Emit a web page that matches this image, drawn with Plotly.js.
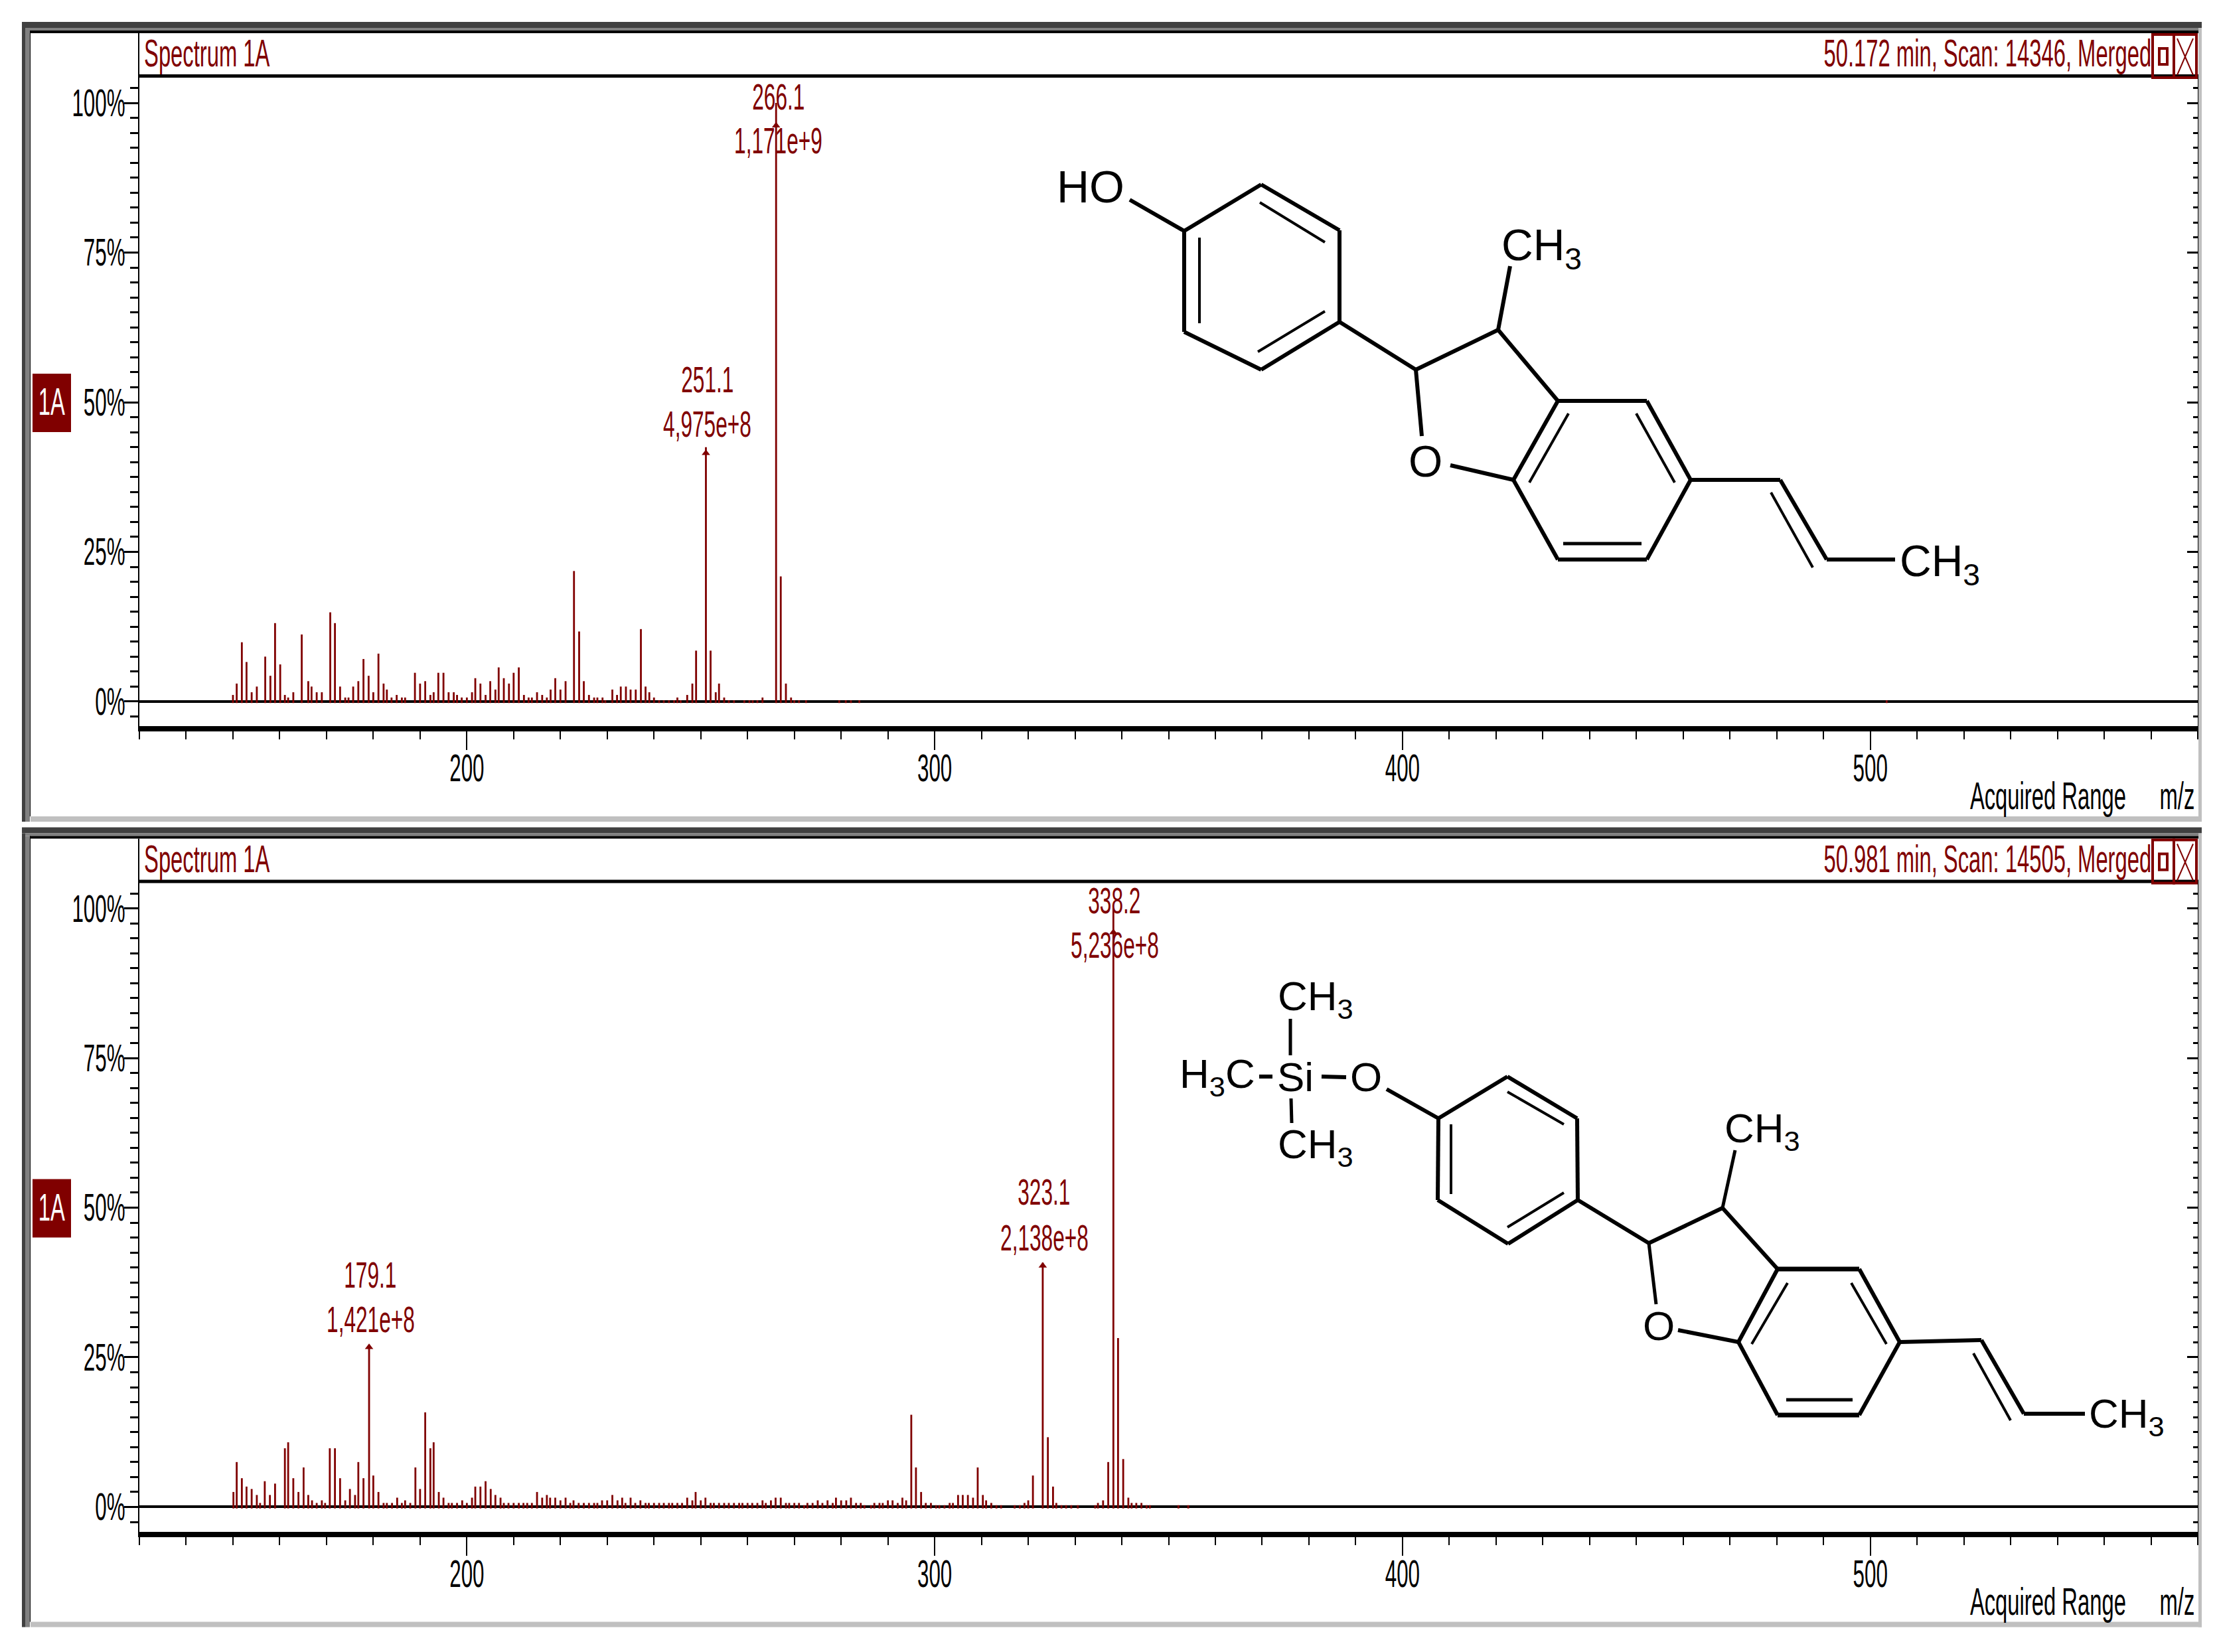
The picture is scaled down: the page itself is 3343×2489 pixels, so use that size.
<!DOCTYPE html>
<html>
<head>
<meta charset="utf-8">
<script src="https://cdn.plot.ly/plotly-3.0.1.min.js"></script>
<style>
  body { margin: 0; background: white; }
</style>
</head>
<body>
<div id="chart" style="width:3343px;height:2489px"></div>
<script>
const W = 3343, H = 2489
const PANEL_OFFSET = 1213.5
const RED = '#800000'
const FONT = '"Liberation Sans", Arial, sans-serif'

// Spectrum at 50.172 min
const mzTop = [150, 150.8, 151.9, 152.9, 154, 155.1, 156.9, 158, 159, 160.1,
  161.1, 161.8, 162.9, 164.7, 166.1, 166.8, 167.9, 169, 170.8, 171.8,
  172.9, 174, 174.7, 175.7, 176.8, 177.9, 179, 180, 181.1, 182.2,
  182.9, 183.9, 185, 186.1, 186.8, 188.9, 190, 191.1, 192.2, 192.9,
  193.9, 195, 196.1, 197.2, 197.9, 198.9, 200, 201.1, 201.8, 202.9,
  204, 205, 206.1, 206.8, 207.9, 209, 210, 211.1, 212.2, 213.2,
  213.9, 215, 216.1, 217.1, 217.9, 218.9, 220, 221.1,
  222.9, 224, 225, 226.1, 227.2, 227.9, 229, 229.6, 231.1, 232.1,
  232.9, 234, 235, 236.1, 237.2, 238.2, 239, 240, 241.1, 242.1,
  243.2, 244.3, 245, 245.7, 247.1, 248.2, 249, 251.1, 252.1, 253.2,
  253.9, 255, 256, 257.1, 259.3, 260.4, 261.1, 262.1, 263.2, 266.1,
  267.1, 268.2, 269.3, 270, 271, 272.5, 279.6, 281, 282.1, 283.9, 503.5]
const intensityTop = [1.1, 3, 9.9, 6.6, 1.55, 2.5, 7.5, 4.3, 13.1, 6.2,
  1.1, 0.67, 1.55, 11.2, 3.4, 2.5, 1.55, 1.55, 14.9, 13.1,
  2.5, 0.67, 0.67, 2.5, 3.4, 7.1, 4.3, 1.55, 8, 3,
  2, 0.67, 1.1, 0.67, 0.67, 4.8, 3, 3.4, 1.1, 1.55,
  4.8, 4.8, 1.55, 1.55, 1.1, 0.67, 0.67, 1.55, 3.9, 3,
  1.1, 3.4, 2, 5.7, 3.9, 3, 4.8, 5.7, 1.1, 0.67,
  0.67, 1.55, 1.1, 0.67, 2, 3.9, 2, 3.4,
  21.8, 11.7, 3.4, 1.1, 0.67, 0.67, 0.67, 0.2, 2, 1.1,
  2.5, 2.5, 2, 2, 12.1, 2.5, 1.55, 0.67, 0.2, 0.2,
  0.2, 0.2, 0.67, 0.2, 1.1, 3, 8.5, 42.5, 8.5, 1.55,
  3, 0.67, 0.2, 0.2, 0.2, 0.2, 0.2, 0.2, 0.67, 100,
  20.9, 3, 0.67, 0.2, 0.2, 0.2, 0.2, 0.2, 0.2, 0.2, 0.2]

// Spectrum at 50.981 min
const mzBottom = [150.1, 150.8, 151.9, 152.9, 154, 155.1, 155.8, 156.8, 157.9, 159,
  161.1, 161.8, 162.9, 164, 165.1, 166.1, 166.9, 167.9, 169, 169.7,
  170.7, 171.8, 172.9, 174, 175, 176.1, 176.8, 177.9, 179.1, 180,
  181.1, 182.2, 182.9, 184, 185.1, 186.1, 186.8, 187.9, 189, 190,
  191.1, 192.2, 192.9, 194, 195, 196.1, 196.8, 197.9, 199, 200,
  201.1, 201.8, 202.9, 204, 205.1, 206.1, 207.2, 207.9, 208.9, 210,
  211.1, 212.1, 212.9, 213.9, 215, 216.1, 217.1, 217.8, 218.9, 220,
  221.1, 222.1, 222.8, 223.9, 225, 226.1, 227.2, 227.9, 228.9, 230,
  231.1, 232.2, 233.2, 233.9, 235, 236, 237.1, 238.2, 238.9, 240,
  241.1, 242.1, 243.2, 243.9, 245, 246, 247.1, 248.2, 248.9, 250,
  251, 252.1, 252.8, 253.9, 255, 256, 257.1, 258.2, 258.9, 260,
  261, 262.1, 263.2, 263.9, 265, 266, 267.1, 268.2, 268.9, 270,
  271, 272.1, 272.8, 273.9, 275, 276, 277.1, 278.2, 278.9, 280,
  281.1, 282.1, 283.2, 284.2, 285, 286.4, 287.1, 288.2, 288.9, 290,
  291, 292.1, 293.1, 293.9, 295, 296, 297.1, 298.1, 299.2, 300.3,
  301, 302.1, 303.2, 303.9, 305, 306, 307.1, 308.2, 309.2, 310.3,
  311, 312.1, 313.2, 314.2, 317.1, 318.2, 319.2, 320, 321, 323.1,
  324.2, 325.3, 326, 327.1, 328.1, 329.2, 330.6, 334.3, 334.9, 336,
  337.1, 338.2, 339.2, 340.3, 341.4, 342.1, 343.1, 344.2, 345.3, 346,
  352.1, 354.2]
const intensityBottom = [2.5, 7.5, 4.8, 3.4, 3, 2, 0.67, 4.3, 2, 3.9,
  9.8, 10.8, 4.8, 2.5, 6.6, 2, 1.1, 0.67, 1.1, 0.67,
  9.8, 9.8, 4.8, 1.1, 3, 2, 7.5, 4.8, 27.1, 5.25,
  2.5, 0.67, 0.67, 0.67, 1.55, 0.67, 1.1, 0.67, 6.6, 3,
  15.8, 9.8, 10.8, 2.5, 1.55, 0.67, 0.67, 0.67, 1.1, 0.67,
  1.55, 3.4, 3.4, 4.3, 3, 2, 1.55, 0.67, 0.67, 0.67,
  0.67, 0.67, 0.67, 0.67, 2.5, 1.55, 2, 1.55, 1.55, 1.1,
  1.55, 0.67, 1.1, 0.67, 0.67, 0.67, 0.67, 0.67, 1.1, 1.1,
  2, 1.1, 1.55, 0.67, 1.55, 0.67, 1.1, 0.67, 0.67, 0.67,
  0.67, 0.67, 0.67, 0.67, 0.67, 0.67, 1.55, 1.1, 2.5, 1.1,
  1.55, 0.67, 0.67, 0.67, 0.67, 0.67, 0.67, 0.67, 0.67, 0.67,
  0.67, 0.67, 1.1, 0.67, 1.1, 1.55, 1.55, 0.67, 0.67, 0.67,
  0.67, 0.3, 0.67, 0.67, 1.1, 0.67, 1.1, 0.67, 1.55, 1.1,
  1.1, 1.55, 0.67, 0.67, 0.3, 0.3, 0.67, 0.67, 0.67, 1.1,
  1.1, 0.67, 1.55, 1.1, 15.4, 6.6, 2.5, 0.67, 0.67, 0.3,
  0.3, 0.3, 0.67, 0.67, 2, 2, 2, 1.55, 6.6, 2,
  1.1, 0.67, 0.3, 0.3, 0.3, 0.3, 0.67, 1.1, 5.25, 40.8,
  11.65, 3.4, 0.67, 0.3, 0.3, 0.3, 0.3, 0.3, 0.67, 1.1,
  7.5, 100, 28.2, 8, 1.55, 0.67, 0.67, 0.67, 0.3, 0.3,
  0.3, 0.3]

// Peak labels and their arrow heads
const arrowMzTop = [266.1, 251.1]
const arrowYTop = [96.2, 41.5]
const labelMzTop = [266.6, 251.4]
const labelMassTop = ['266.1', '251.1']
const labelAreaTop = ['1,171e+9', '4,975e+8']
const labelMassYTop = [101, 53.8]
const labelAreaYTop = [93.7, 46.3]

const arrowMzBottom = [338.2, 323.1, 179.1]
const arrowYBottom = [96, 40.3, 26.7]
const labelMzBottom = [338.5, 323.4, 179.4]
const labelMassBottom = ['338.2', '323.1', '179.1']
const labelAreaBottom = ['5,236e+8', '2,138e+8', '1,421e+8']
const labelMassYBottom = [101.3, 52.6, 38.8]
const labelAreaYBottom = [93.8, 45, 31.3]

const headers = ['50.172 min, Scan: 14346, Merged', '50.981 min, Scan: 14505, Merged']

// Structure drawings, in page pixels: x0, y0, x1, y1, width
const bondsTop = [
  [1784, 348, 1900, 278, 6], [1900, 278, 2018, 347, 6], [2018, 347, 2018, 485, 6],
  [2018, 485, 1900, 557, 6], [1900, 557, 1784, 500, 6], [1784, 500, 1784, 348, 6],
  [1807, 358, 1807, 487, 4], [1898, 305, 1996, 365, 4], [1996, 469, 1895, 530, 4],
  [1702, 301, 1784, 348, 6], [2018, 485, 2133, 557, 6], [2133, 557, 2257, 497, 6],
  [2257, 497, 2275, 401, 6], [2257, 497, 2347, 604, 6], [2133, 557, 2142, 657, 6],
  [2185, 701, 2280, 723, 6],
  [2347, 604, 2481, 604, 6], [2481, 604, 2547, 723, 6], [2547, 723, 2481, 843, 6],
  [2481, 843, 2347, 843, 6], [2347, 843, 2280, 723, 6], [2280, 723, 2347, 604, 6],
  [2363, 623, 2304, 727, 4], [2465, 623, 2523, 727, 4], [2355, 819, 2473, 819, 5],
  [2547, 723, 2682, 723, 6], [2682, 723, 2752, 843, 6], [2752, 843, 2855, 843, 6],
  [2668, 742, 2731, 855, 4]
]
const atomsTop = [
  ['HO', 1590, 281, 68], ['CH<sub>3</sub>', 2260, 374, 66],
  ['O', 2120, 695, 66], ['CH<sub>3</sub>', 2860, 850, 66]
]
const bondsBottom = [
  [1944, 1535, 1944, 1590, 5], [1945, 1655, 1946, 1692, 5], [1897, 1622, 1917, 1622, 6],
  [1991, 1622, 2028, 1623, 6], [2089, 1641, 2167, 1685, 6],
  [2167, 1685, 2271, 1622, 6], [2271, 1622, 2376, 1685, 6], [2376, 1685, 2377, 1808, 6],
  [2377, 1808, 2272, 1874, 6], [2272, 1874, 2166, 1808, 6], [2166, 1808, 2167, 1685, 6],
  [2186, 1694, 2186, 1799, 4], [2271, 1645, 2356, 1694, 4], [2356, 1797, 2271, 1849, 4],
  [2377, 1808, 2484, 1873, 6], [2484, 1873, 2595, 1820, 6], [2595, 1820, 2614, 1733, 5],
  [2595, 1820, 2678, 1912, 6], [2484, 1873, 2495, 1965, 5], [2528, 2004, 2619, 2022, 6],
  [2678, 1912, 2801, 1912, 7], [2801, 1912, 2862, 2022, 6], [2862, 2022, 2801, 2132, 6],
  [2801, 2132, 2678, 2132, 7], [2678, 2132, 2619, 2022, 6], [2619, 2022, 2678, 1912, 6],
  [2693, 1933, 2639, 2025, 4], [2789, 1933, 2842, 2025, 4], [2691, 2109, 2791, 2109, 5],
  [2862, 2022, 2985, 2019, 6], [2985, 2019, 3049, 2130, 6], [3049, 2130, 3141, 2130, 6],
  [2973, 2039, 3029, 2140, 4]
]
const atomsBottom = [
  ['CH<sub>3</sub>', 1923, 1505, 62], ['CH<sub>3</sub>', 1923, 1728, 62],
  ['H<sub>3</sub>C', 1775, 1622, 62], ['Si', 1922, 1622, 62], ['O', 2032, 1622, 62],
  ['CH<sub>3</sub>', 2596, 1704, 62], ['O', 2473, 1997, 62], ['CH<sub>3</sub>', 3145, 2134, 62]
]

const px = x => x / W
const py = y => 1 - y / H

function rect(x0, y0, x1, y1, color) {
  return { type: 'rect', xref: 'paper', yref: 'paper', x0: px(x0), x1: px(x1), y0: py(y0), y1: py(y1),
    fillcolor: color, line: { width: 0 } }
}

function seg(b, color) {
  return { type: 'line', xref: 'paper', yref: 'paper', x0: px(b[0]), y0: py(b[1]), x1: px(b[2]), y1: py(b[3]),
    line: { color: color || 'black', width: b[4] } }
}

// narrow window-style text, squeezed after plotting
function narrow(text, x, y, color) {
  return { text: text, xref: 'paper', yref: 'paper', x: px(x), y: py(y), xanchor: 'center', yanchor: 'middle',
    showarrow: false, font: { family: FONT, size: 57, color: color } }
}

function atom(a) {
  return { text: a[0], xref: 'paper', yref: 'paper', x: px(a[1]), y: py(a[2]), xanchor: 'left', yanchor: 'middle',
    showarrow: false, font: { family: FONT, size: a[3], color: 'black' } }
}

function peakLabel(text, mz, y, xaName, yaName) {
  return { text: text, xref: xaName, yref: yaName, x: mz, y: y, xanchor: 'center', yanchor: 'middle',
    showarrow: false, font: { family: FONT, size: 55, color: RED } }
}

function stems(mz, values, xa, ya) {
  return { type: 'bar', x: mz, y: values.map(v => v + 0.25), base: -0.25, width: 0.4, xaxis: xa, yaxis: ya,
    marker: { color: RED, line: { width: 0 } }, hoverinfo: 'skip' }
}

function arrows(mz, y, xa, ya) {
  return { type: 'scatter', mode: 'markers', x: mz, y: y, xaxis: xa, yaxis: ya,
    marker: { symbol: 'triangle-up', size: 11, color: RED }, hoverinfo: 'skip' }
}

function xAxis(dy, anchor) {
  return { domain: [px(210), px(3311)], range: [130, 570], anchor: anchor, tick0: 100, dtick: 100,
    ticks: 'outside', ticklen: 28, tickwidth: 2, tickcolor: 'black', showgrid: false, zeroline: false,
    showline: true, linewidth: 8, linecolor: 'black', ticklabelstandoff: -21,
    tickfont: { family: FONT, size: 57, color: 'black' },
    minor: { dtick: 10, tick0: 100, ticks: 'outside', ticklen: 12, tickwidth: 2, tickcolor: 'black', showgrid: false } }
}

// 100% sits at 156 px and 0% at 1057 px, so 9.01 px per percent
function yAxis(dy, anchor) {
  return { domain: [py(1094 + dy), py(116 + dy)], range: [-4.107, 104.33], anchor: anchor, tick0: 0, dtick: 25,
    ticksuffix: '%', ticks: 'outside', ticklen: 21, tickwidth: 3, tickcolor: 'black', showgrid: false,
    zeroline: true, zerolinecolor: 'black', zerolinewidth: 4, showline: true, linewidth: 2, linecolor: 'black',
    tickfont: { family: FONT, size: 57, color: 'black' }, ticklabelstandoff: -13,
    minor: { dtick: 2.5, tick0: 0, ticks: 'outside', ticklen: 12, tickwidth: 3, tickcolor: 'black', showgrid: false } }
}

function yAxisRight(dy, over, anchor) {
  return { domain: [py(1094 + dy), py(116 + dy)], range: [-4.107, 104.33], anchor: anchor, overlaying: over, side: 'right',
    tick0: 0, dtick: 25, ticks: 'inside', ticklen: 16, tickwidth: 3, tickcolor: 'black', showticklabels: false,
    showgrid: false, zeroline: false, showline: true, linewidth: 2, linecolor: 'black',
    minor: { dtick: 2.5, tick0: 0, ticks: 'inside', ticklen: 7, tickwidth: 3, tickcolor: 'black', showgrid: false } }
}

let shapes = []
let annotations = []

;[0, PANEL_OFFSET].forEach(function (dy, i) {
  // window frame
  shapes.push(rect(33, 33 + dy, 3317, 42 + dy, '#404040'))
  shapes.push(rect(33, 42 + dy, 38, 1238 + dy, '#404040'))
  shapes.push(rect(38, 42 + dy, 3312, 46 + dy, '#808080'))
  shapes.push(rect(38, 46 + dy, 45, 1238 + dy, '#808080'))
  shapes.push(rect(45, 46 + dy, 3312, 50 + dy, 'black'))
  shapes.push(rect(45, 46 + dy, 46, 1230 + dy, 'black'))
  shapes.push(rect(3312, 42 + dy, 3317, 1238 + dy, '#c0c0c0'))
  shapes.push(rect(46, 1230 + dy, 3317, 1238 + dy, '#c0c0c0'))
  // title strip
  shapes.push(rect(208, 50 + dy, 210, 116 + dy, 'black'))
  shapes.push(rect(208, 112 + dy, 3312, 117 + dy, 'black'))
  // restore and close buttons
  shapes.push({ type: 'rect', xref: 'paper', yref: 'paper', x0: px(3243), x1: px(3275), y0: py(52 + dy), y1: py(117 + dy),
    line: { color: RED, width: 4 } })
  shapes.push({ type: 'rect', xref: 'paper', yref: 'paper', x0: px(3275), x1: px(3309), y0: py(52 + dy), y1: py(117 + dy),
    line: { color: RED, width: 4 } })
  shapes.push({ type: 'rect', xref: 'paper', yref: 'paper', x0: px(3253), x1: px(3265), y0: py(73 + dy), y1: py(97 + dy),
    line: { color: RED, width: 4 } })
  shapes.push(seg([3280, 58 + dy, 3304, 113 + dy, 2], RED))
  shapes.push(seg([3304, 58 + dy, 3280, 113 + dy, 2], RED))
  // ion badge
  shapes.push(rect(49, 563 + dy, 107, 651 + dy, RED))

  annotations.push(narrow('Spectrum 1A', 311, 80 + dy, RED))
  annotations.push(narrow(headers[i], 2994, 80 + dy, RED))
  annotations.push(narrow('1A', 78, 605 + dy, 'white'))
  annotations.push(narrow('Acquired Range', 3085, 1199 + dy, 'black'))
  annotations.push(narrow('m/z', 3280, 1199 + dy, 'black'))
})

labelMassTop.forEach(function (t, i) {
  annotations.push(peakLabel(t, labelMzTop[i], labelMassYTop[i], 'x', 'y'))
  annotations.push(peakLabel(labelAreaTop[i], labelMzTop[i], labelAreaYTop[i], 'x', 'y'))
})
labelMassBottom.forEach(function (t, i) {
  annotations.push(peakLabel(t, labelMzBottom[i], labelMassYBottom[i], 'x2', 'y2'))
  annotations.push(peakLabel(labelAreaBottom[i], labelMzBottom[i], labelAreaYBottom[i], 'x2', 'y2'))
})

const narrowCount = annotations.length

bondsTop.concat(bondsBottom).forEach(b => shapes.push(seg(b)))
atomsTop.concat(atomsBottom).forEach(a => annotations.push(atom(a)))

const traces = [
  stems(mzTop, intensityTop, 'x', 'y'),
  stems(mzBottom, intensityBottom, 'x2', 'y2'),
  arrows(arrowMzTop, arrowYTop, 'x', 'y3'),
  arrows(arrowMzBottom, arrowYBottom, 'x2', 'y4')
]

const layout = {
  width: W, height: H, autosize: false, showlegend: false, barmode: 'overlay',
  margin: { l: 0, r: 0, t: 0, b: 0 }, paper_bgcolor: 'white', plot_bgcolor: 'white',
  xaxis: xAxis(0, 'y'), yaxis: yAxis(0, 'x'), yaxis3: yAxisRight(0, 'y', 'x'),
  xaxis2: xAxis(PANEL_OFFSET, 'y2'), yaxis2: yAxis(PANEL_OFFSET, 'x2'), yaxis4: yAxisRight(PANEL_OFFSET, 'y2', 'x2'),
  shapes: shapes, annotations: annotations
}

// squeeze horizontally around the text's own anchor
function squeeze(node, ratio) {
  const cx = parseFloat(node.getAttribute('x')) || 0
  const old = node.getAttribute('transform') || ''
  node.setAttribute('transform', old + ' translate(' + cx + ' 0) scale(' + ratio + ' 1) translate(' + (-cx) + ' 0)')
}

Plotly.newPlot('chart', traces, layout, { displayModeBar: false }).then(function () {
  document.querySelectorAll('.xtick text, .ytick text, .x2tick text, .y2tick text').forEach(n => squeeze(n, 0.55))
  document.querySelectorAll('.annotation').forEach(function (g) {
    if (+g.getAttribute('data-index') < narrowCount) squeeze(g.querySelector('text'), 0.575)
  })
})
</script>
</body>
</html>
